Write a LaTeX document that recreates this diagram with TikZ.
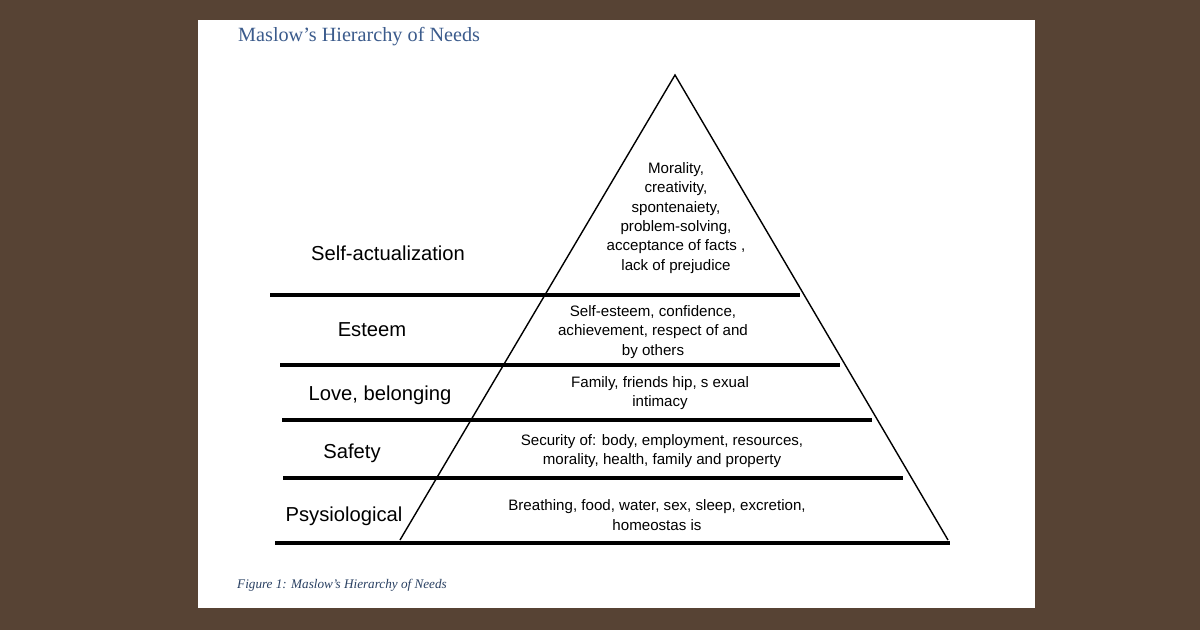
\documentclass[tikz,border=0pt]{standalone}
\usepackage{fontspec}
\setmainfont{Liberation Serif}
\setsansfont{Liberation Sans}
\usetikzlibrary{positioning}
\definecolor{framebrown}{HTML}{574334}
\definecolor{titleblue}{HTML}{3B5B8C}
\tikzset{
  levelbar/.style={line width=2.8pt},
  levelname/.style={font=\fontsize{11.5}{13}\selectfont\sffamily},
  needtext/.style={font=\fontsize{8.6}{11}\selectfont\sffamily, align=center}
}
\begin{document}
\begin{tikzpicture}[x=0.02cm, y=-0.02cm]
  \fill[framebrown] (0,0) rectangle (1200,630);
  \fill[white] (198,20) rectangle (1035,608);

  \node[titleblue, font=\fontsize{11.5}{13}\selectfont, anchor=west] (title) at (232,37) {Maslow's Hierarchy of Needs};

  % pyramid outline
  \draw[line width=0.8pt] (400,540) -- (675,75) -- (948,540);

  % level bars
  \draw[levelbar] (270,295) -- (800,295);
  \draw[levelbar] (280,365) -- (840,365);
  \draw[levelbar] (282,420) -- (872,420);
  \draw[levelbar] (283,478) -- (903,478);
  \draw[levelbar] (275,543) -- (950,543);

  % level names
  \node[levelname] (selfact) at (388,253) {Self-actualization};
  \node[levelname] (esteem) at (372,330) {Esteem};
  \node[levelname] (love) at (380,395) {Love, belonging};
  \node[levelname] (safety) at (352,453) {Safety};
  \node[levelname] (physio) at (344,516) {Psysiological};

  % needs
  \node[needtext] (selfneeds) at (676,218) {Morality,\\creativity,\\spontenaiety,\\problem-solving,\\acceptance of facts ,\\lack of prejudice};
  \node[needtext] (esteemneeds) at (653,332) {Self-esteem, confidence,\\achievement, respect of and\\by others};
  \node[needtext] (loveneeds) at (660,393) {Family, friends hip, s exual\\intimacy};
  \node[needtext] (safetyneeds) at (662,451) {Security of: body, employment, resources,\\morality, health, family and property};
  \node[needtext] (physioneeds) at (657,515) {Breathing, food, water, sex, sleep, excretion,\\homeostas is};

  \node[titleblue!70!black, font=\fontsize{7.5}{9}\selectfont\itshape, anchor=west] (caption) at (231,585) {Figure 1: Maslow's Hierarchy of Needs};
\end{tikzpicture}
\end{document}
